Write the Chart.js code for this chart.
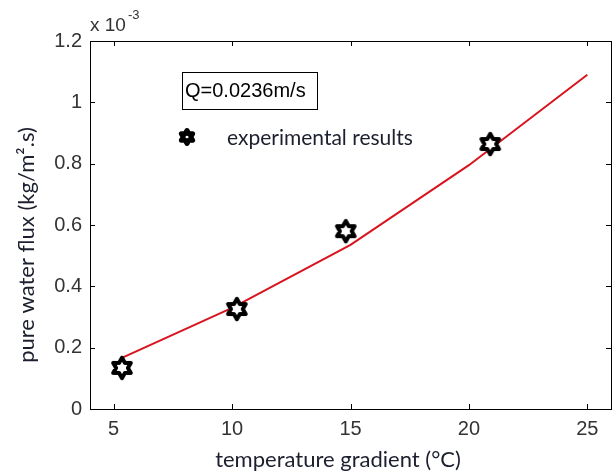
<!DOCTYPE html>
<html>
<head>
<meta charset="utf-8">
<script src="https://cdn.jsdelivr.net/npm/chart.js@4.4.1/dist/chart.umd.min.js"></script>
<style>
  html,body{margin:0;padding:0;background:#fff;}
  #wrap{width:616px;height:474px;}
</style>
</head>
<body>
<div id="wrap"><canvas id="c" width="616" height="474"></canvas></div>
<script>
// values in units of 10^-3 kg/m².s
const expT = [5.35, 10.2, 14.8, 20.9];
const expFlux = [0.134, 0.326, 0.580, 0.864];
const modelT = [5.3, 10, 15, 20, 25];
const modelFlux = [0.165, 0.330, 0.535, 0.795, 1.090];
const xTicks = [5, 10, 15, 20, 25];
const yTicks = [0, 0.2, 0.4, 0.6, 0.8, 1, 1.2];

const TXT = "#1c1f2e";
const ARIAL = "'Liberation Sans', Arial, sans-serif";
const LABFONT = "'Lato', 'Open Sans', sans-serif";

function hexagram(ctx, cx, cy, R, lw){
  const r = R/Math.sqrt(3);
  ctx.beginPath();
  for(let k=0;k<12;k++){
    const a = -Math.PI/2 + k*Math.PI/6;
    const rr = k%2===0 ? R : r;
    const x = cx + rr*Math.cos(a), y = cy + rr*Math.sin(a);
    k ? ctx.lineTo(x,y) : ctx.moveTo(x,y);
  }
  ctx.closePath();
  ctx.fillStyle = "#fff"; ctx.fill();
  ctx.lineJoin = "round"; ctx.lineWidth = lw; ctx.strokeStyle = "#000"; ctx.stroke();
}

const star = document.createElement("canvas");
star.width = 30; star.height = 30;
hexagram(star.getContext("2d"), 15, 15, 10.2, 4);

const frame = {
  id: "frame",
  afterDraw(chart){
    const {ctx, chartArea:a, scales:{x, y}} = chart;
    ctx.save();
    ctx.strokeStyle = "#000"; ctx.lineWidth = 1;
    ctx.strokeRect(a.left+0.5, a.top+0.5, a.right-a.left, a.bottom-a.top);
    ctx.beginPath();
    xTicks.forEach(v=>{
      const px = Math.round(x.getPixelForValue(v))+0.5;
      ctx.moveTo(px, a.bottom); ctx.lineTo(px, a.bottom-5);
      ctx.moveTo(px, a.top); ctx.lineTo(px, a.top+5);
    });
    yTicks.forEach(v=>{
      const py = Math.round(y.getPixelForValue(v))+0.5;
      ctx.moveTo(a.left, py); ctx.lineTo(a.left+5, py);
      ctx.moveTo(a.right, py); ctx.lineTo(a.right-5, py);
    });
    ctx.stroke();

    // exponent
    ctx.fillStyle = "#333";
    ctx.textBaseline = "alphabetic"; ctx.textAlign = "left";
    ctx.font = "19px " + ARIAL;
    ctx.fillText("x 10", 90, 31);
    ctx.font = "13px " + ARIAL;
    ctx.fillText("-3", 128, 19);

    // annotation box
    ctx.strokeStyle = "#000";
    ctx.strokeRect(182.5, 72.5, 135, 37);
    ctx.fillStyle = "#000";
    ctx.font = "20px " + ARIAL;
    ctx.textBaseline = "middle";
    ctx.fillText("Q=0.0236m/s", 185, 91);

    // legend
    hexagram(ctx, 187, 137, 6.5, 5);
    ctx.fillStyle = TXT;
    ctx.font = "21px " + LABFONT;
    ctx.fillText("experimental results", 227, 138);

    // axis titles
    ctx.textAlign = "center";
    ctx.font = "22px " + LABFONT;
    ctx.fillText("temperature gradient (°C)", 338, 460);
    ctx.translate(27, 245);
    ctx.rotate(-Math.PI/2);
    ctx.fillText("pure water flux (kg/m².s)", 0, 0);
    ctx.restore();
  }
};

new Chart(document.getElementById("c"), {
  type: "scatter",
  data: {
    datasets: [
      {label:"experimental results", data: expT.map((t,i)=>({x:t, y:expFlux[i]})),
       pointStyle: star, pointRadius: 15, showLine: false},
      {label:"model", data: modelT.map((t,i)=>({x:t, y:modelFlux[i]})),
       showLine: true, borderColor: "#d8141e", borderWidth: 2, pointRadius: 0, tension: 0}
    ]
  },
  options: {
    responsive: false, animation: false,
    layout: {autoPadding: false, padding: {top: 41, right: 5, left: 0, bottom: 0}},
    plugins: {legend: {display: false}, tooltip: {enabled: false}},
    scales: {
      x: {
        type: "linear", min: 4, max: 26,
        afterBuildTicks: s => { s.ticks = xTicks.map(v=>({value:v})); },
        afterFit: s => { s.height = 65; s.paddingLeft = 0; s.paddingRight = 0; },
        grid: {display: false, drawTicks: false}, border: {display: false},
        ticks: {font: {family: ARIAL, size: 20}, color: "#333", padding: 8, maxRotation: 0}
      },
      y: {
        type: "linear", min: 0, max: 1.2,
        afterBuildTicks: s => { s.ticks = yTicks.map(v=>({value:v})); },
        afterFit: s => { s.width = 90; },
        grid: {display: false, drawTicks: false}, border: {display: false},
        ticks: {font: {family: ARIAL, size: 20}, color: "#333", padding: 8,
                callback: v => String(+v.toFixed(1))}
      }
    }
  },
  plugins: [frame]
});
</script>
</body>
</html>
